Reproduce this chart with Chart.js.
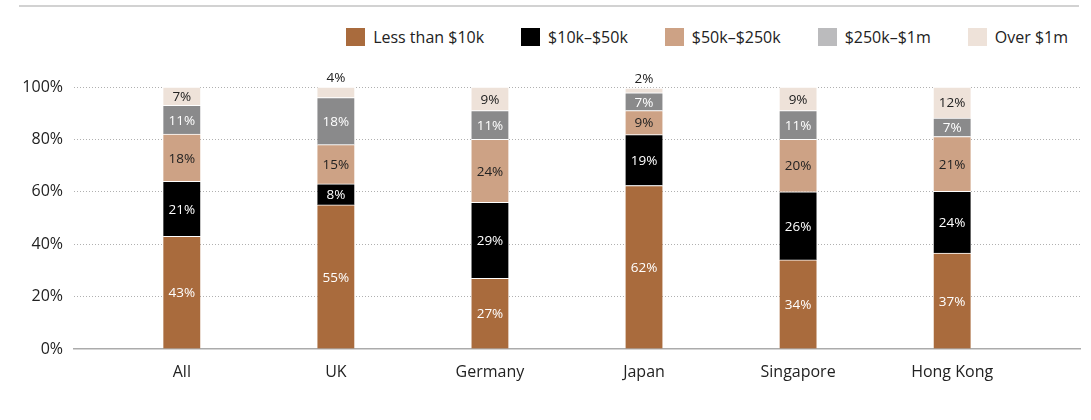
<!DOCTYPE html>
<html>
<head>
<meta charset="utf-8">
<script src="https://cdn.jsdelivr.net/npm/chart.js@4.4.1/dist/chart.umd.min.js"></script>
<style>
  html, body { margin: 0; padding: 0; background: #fff; }
  #wrap { position: relative; width: 1091px; height: 420px; }
  #topline { position: absolute; left: 19px; top: 5px; width: 1060px; height: 2px; background: #d2d2d2; }
  #legend { position: absolute; top: 28px; right: 23px; display: flex; align-items: center;
            font-family: "Open Sans", sans-serif; font-size: 16px; color: #222; }
  .item { display: flex; align-items: center; margin-left: 37px; height: 18px; }
  .item:first-child { margin-left: 0; }
  .box { width: 19px; height: 18px; margin-right: 8px; }
  canvas { position: absolute; left: 0; top: 0; }
</style>
</head>
<body>
<div id="wrap">
  <div id="topline"></div>
  <div id="legend"></div>
  <canvas id="c" width="1091" height="420"></canvas>
</div>
<script>
const categories = ["All", "UK", "Germany", "Japan", "Singapore", "Hong Kong"];
const seriesNames = ["Less than $10k", "$10k\u2013$50k", "$50k\u2013$250k", "$250k\u2013$1m", "Over $1m"];
const lessThan10k = [43, 55, 27, 62.4, 34, 36.6];
const from10kTo50k = [21, 8, 29, 19.4, 26, 23.6];
const from50kTo250k = [18, 15, 24, 9.2, 20, 20.9];
const from250kTo1m = [11, 18, 11, 6.8, 11, 7.0];
const over1m = [7, 4, 9, 1.8, 9, 11.9];
const yTicks = [0, 20, 40, 60, 80, 100];

const seriesValues = [lessThan10k, from10kTo50k, from50kTo250k, from250kTo1m, over1m];
const barColors = ["#A96B3D", "#000000", "#CDA285", "#8A8A8B", "#EEE2D9"];
const legendColors = ["#A96B3D", "#000000", "#CDA285", "#BBBBBD", "#EEE2D9"];
const labelColors = ["#ffffff", "#ffffff", "#222222", "#ffffff", "#222222"];

// HTML legend
const leg = document.getElementById('legend');
seriesNames.forEach((n, i) => {
  const it = document.createElement('div'); it.className = 'item';
  const b = document.createElement('div'); b.className = 'box'; b.style.background = legendColors[i];
  const t = document.createElement('span'); t.textContent = n;
  it.appendChild(b); it.appendChild(t); leg.appendChild(it);
});

const FONT = '"Open Sans", sans-serif';

const datasets = seriesValues.map((vals, i) => ({
  label: seriesNames[i],
  data: vals.map((v, j) => ({ x: j, y: v })),
  backgroundColor: barColors[i],
  borderColor: '#ffffff',
  borderWidth: { top: 1, bottom: 0, left: 0, right: 0 },
  borderSkipped: false,
  barThickness: 37
}));

const valueLabels = {
  id: 'valueLabels',
  afterDatasetsDraw(chart) {
    const ctx = chart.ctx;
    ctx.save();
    ctx.font = '13.5px ' + FONT;
    ctx.textAlign = 'center';
    ctx.textBaseline = 'middle';
    chart.data.datasets.forEach((ds, i) => {
      const meta = chart.getDatasetMeta(i);
      meta.data.forEach((el, j) => {
        const v = seriesValues[i][j];
        const txt = Math.round(v) + '%';
        if (v < 5) {
          ctx.fillStyle = '#222';
          ctx.fillText(txt, el.x, el.y - 9);
        } else {
          ctx.fillStyle = labelColors[i];
          ctx.fillText(txt, el.x, (el.y + el.base) / 2 + 1);
        }
      });
    });
    ctx.restore();
  }
};

new Chart(document.getElementById('c'), {
  type: 'bar',
  data: { datasets },
  plugins: [valueLabels],
  options: {
    responsive: false,
    animation: false,
    layout: { padding: { top: 87, left: 0, right: 11, bottom: 0 } },
    plugins: { legend: { display: false }, tooltip: { enabled: false } },
    scales: {
      x: {
        type: 'linear',
        stacked: true,
        offset: false,
        min: -0.7,
        max: 5.83,
        afterBuildTicks(scale) { scale.ticks = categories.map((c, i) => ({ value: i })); },
        afterFit(scale) { scale.height = 71; },
        ticks: {
          font: { family: FONT, size: 16 },
          color: '#222',
          padding: 14,
          autoSkip: false,
          maxRotation: 0,
          callback: (v) => categories[v]
        },
        grid: { display: false, drawTicks: false, offset: false },
        border: { display: true, color: '#ababab', width: 1.5 }
      },
      y: {
        stacked: true,
        min: 0,
        max: 100,
        afterBuildTicks(scale) { scale.ticks = yTicks.map(v => ({ value: v })); },
        afterFit(scale) { scale.width = 74; },
        ticks: {
          font: { family: FONT, size: 16 },
          color: '#222',
          padding: 11,
          callback: (v) => v + '%'
        },
        grid: {
          drawTicks: false,
          color: (c) => c.tick && c.tick.value === 0 ? 'rgba(0,0,0,0)' : '#b0b0b0',
          lineWidth: 1
        },
        border: { display: false, dash: [1, 2] }
      }
    }
  }
});
</script>
</body>
</html>
